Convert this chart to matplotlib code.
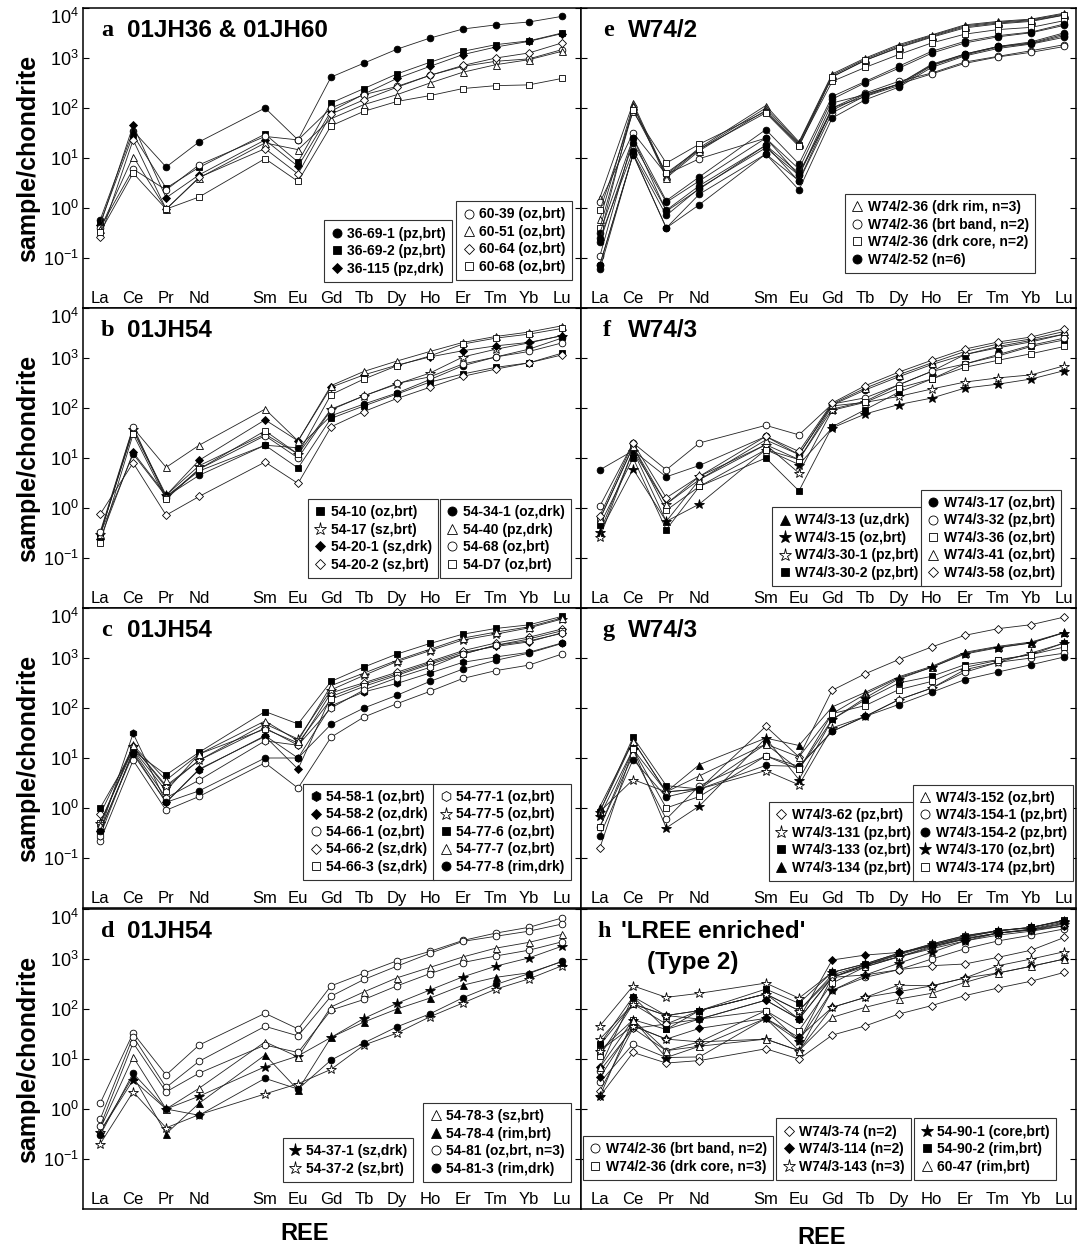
import math

import matplotlib
matplotlib.use("Agg")
import matplotlib.pyplot as plt
from matplotlib.lines import Line2D
from matplotlib.ticker import NullLocator

plt.rcParams["font.family"] = ["Liberation Sans", "DejaVu Sans"]
plt.rcParams["mathtext.fontset"] = "custom"
plt.rcParams["mathtext.rm"] = "Liberation Sans"
plt.rcParams["mathtext.it"] = "Liberation Sans:italic"
plt.rcParams["mathtext.bf"] = "Liberation Sans:bold"
plt.rcParams["axes.unicode_minus"] = False

ELEMENTS = ["La", "Ce", "Pr", "Nd", "Sm", "Eu", "Gd", "Tb", "Dy", "Ho", "Er", "Tm", "Yb", "Lu"]
POSITIONS = [1, 2, 3, 4, 6, 7, 8, 9, 10, 11, 12, 13, 14, 15]

# ---- panel a : 01JH36 & 01JH60
A_LABELS = ["36-69-1 (pz,brt)", "36-69-2 (pz,brt)", "36-115 (pz,drk)",
            "60-39 (oz,brt)", "60-51 (oz,brt)", "60-64 (oz,brt)", "60-68 (oz,brt)"]
A_GROUPS = [0, 1, 2, 3, 4, 5, 6]
A_VALUES = [
    [0.58, 35, 6.6, 21, 100, 23, 415, 790, 1500, 2500, 3800, 4600, 5250, 6800],
    [0.5, 29, 2.5, 6.5, 30, 8.3, 126, 245, 480, 820, 1360, 1850, 2200, 3160],
    [0.45, 45, 1.6, 4.6, 23, 6.8, 86, 190, 390, 680, 1170, 1660, 2150, 3070],
    [0.4, 6, 2.3, 7.3, 27, 23, 100, 185, 270, 450, 680, 860, 960, 1470],
    [0.38, 10.7, 0.95, 4, 20, 14.7, 61, 117, 185, 316, 520, 735, 925, 1360],
    [0.26, 23, 0.95, 4.1, 15.4, 4.8, 76, 146, 260, 450, 710, 1000, 1260, 2000],
    [0.33, 5, 0.95, 1.66, 9.7, 3.4, 44, 86, 135, 177, 245, 280, 290, 390],
]

# ---- panel b : 01JH54
B_LABELS = ["54-10 (oz,brt)", "54-17 (sz,brt)", "54-20-1 (sz,drk)", "54-20-2 (sz,brt)",
            "54-34-1 (oz,drk)", "54-40 (pz,drk)", "54-68 (oz,brt)", "54-D7 (oz,brt)"]
B_GROUPS = [0, 1, 2, 3, 4, 5, 6, 7]
B_VALUES = [
    [0.3, 35, 1.7, 5.5, 18, 6.3, 62, 110, 190, 330, 480, 650, 800, 1250],
    [0.3, 38, 1.8, 7, 30, 12, 95, 175, 300, 500, 1050, 1500, 2000, 2800],
    [0.24, 13, 1.8, 9, 58, 22, 260, 460, 720, 1050, 1400, 1750, 2050, 2800],
    [0.75, 8, 0.72, 1.7, 8.3, 3.1, 42, 85, 155, 260, 430, 600, 800, 1150],
    [0.3, 12, 1.7, 4.5, 18, 16, 70, 120, 200, 370, 700, 1050, 1500, 2500],
    [0.3, 40, 6.5, 18, 95, 22, 280, 540, 870, 1350, 2050, 2700, 3300, 4400],
    [0.33, 42, 1.6, 6, 28, 10, 92, 175, 310, 420, 760, 1050, 1350, 2000],
    [0.2, 30, 1.5, 6, 35, 12, 185, 380, 700, 1100, 1900, 2500, 3000, 3900],
]

# ---- panel c : 01JH54
C_LABELS = ["54-58-1 (oz,brt)", "54-58-2 (oz,drk)", "54-66-1 (oz,brt)", "54-66-2 (sz,drk)",
            "54-66-3 (sz,drk)", "54-77-1 (oz,brt)", "54-77-5 (oz,brt)", "54-77-6 (oz,brt)",
            "54-77-7 (oz,brt)", "54-77-8 (rim,drk)"]
C_GROUPS = [0, 1, 2, 3, 4, 5, 6, 7, 8, 9]
C_VALUES = [
    [0.35, 31, 1.3, 5.8, 28, 10, 110, 210, 310, 500, 820, 1050, 1300, 2000],
    [0.35, 13, 1.3, 6, 27, 6.0, 170, 300, 480, 800, 1300, 1700, 2100, 3200],
    [0.22, 9, 0.9, 1.7, 8, 2.5, 26, 66, 122, 215, 390, 560, 720, 1200],
    [0.75, 17, 2.6, 9, 40, 18, 200, 320, 520, 850, 1400, 2000, 2600, 3800],
    [0.5, 15, 2.2, 12, 38, 20, 150, 270, 450, 750, 1200, 1800, 2400, 3500],
    [0.28, 14, 1.6, 3.6, 22, 18, 100, 230, 400, 650, 1200, 1800, 2200, 3100],
    [0.5, 17, 2.8, 9, 48, 24, 230, 450, 850, 1400, 2300, 3000, 4000, 6000],
    [1.0, 14, 4.6, 13, 85, 48, 340, 660, 1200, 1950, 3000, 3900, 4600, 6800],
    [0.45, 18, 3.6, 12, 55, 22, 280, 500, 900, 1500, 2500, 3300, 4200, 6300],
    [0.35, 12, 1.3, 2.2, 10, 10, 47, 100, 180, 340, 600, 900, 1250, 1950],
]

# ---- panel d : 01JH54
D_LABELS = ["54-37-1 (sz,drk)", "54-37-2 (sz,brt)", "54-78-3 (sz,brt)",
            "54-78-4 (rim,brt)", "54-81 (oz,brt, n=3)", "54-81-3 (rim,drk)"]
D_GROUPS = [0, 1, 2, 3, 4, 4, 4, 5]
D_VALUES = [
    [0.35, 3.8, 1.0, 1.8, 7, 11.5, 27, 65, 130, 240, 440, 720, 1050, 1800],
    [0.2, 2.2, 0.42, 0.77, 2.0, 3.2, 6.2, 19, 33, 70, 132, 250, 400, 730],
    [0.4, 11, 1.0, 2.6, 22, 11, 110, 220, 420, 680, 1100, 1650, 2150, 3100],
    [0.35, 4.5, 0.32, 1.3, 12, 2.4, 27, 55, 100, 165, 300, 430, 530, 880],
    [1.3, 33, 4.8, 19, 82, 40, 290, 520, 920, 1420, 2350, 3300, 4300, 6600],
    [0.62, 28, 2.7, 9, 45, 29, 180, 390, 720, 1300, 2250, 2850, 3600, 5000],
    [0.45, 21, 2.2, 5.2, 19, 13.5, 95, 155, 290, 510, 850, 1150, 1500, 2200],
    [0.3, 5.2, 1.0, 0.75, 4.1, 2.5, 9.5, 21, 44, 80, 168, 310, 510, 900],
]

# ---- panel e : W74/2
E_LABELS = ["W74/2-36 (drk rim, n=3)", "W74/2-36 (brt band, n=2)",
            "W74/2-36 (drk core, n=2)", "W74/2-52 (n=6)"]
E_GROUPS = [0, 0, 0, 1, 1, 2, 2, 3, 3, 3, 3, 3, 3]
E_VALUES = [
    [1.6, 126, 4.6, 16, 112, 21, 480, 1000, 1850, 2900, 4600, 5400, 6000, 7900],
    [0.59, 115, 4.3, 15, 100, 20, 450, 950, 1750, 2800, 4400, 5200, 5800, 7600],
    [0.27, 110, 4.0, 14, 90, 19, 420, 900, 1650, 2700, 4200, 5000, 5600, 7300],
    [1.3, 32, 4.7, 9.7, 25, 4.5, 100, 200, 340, 500, 830, 1080, 1400, 1850],
    [0.11, 25, 0.86, 2.4, 18, 3.4, 80, 175, 300, 480, 780, 1050, 1300, 1700],
    [0.9, 85, 7.9, 19, 85, 18, 340, 650, 1170, 2000, 3000, 3700, 4100, 5600],
    [0.4, 90, 5.0, 15, 80, 17, 420, 900, 1600, 2600, 4000, 4800, 5400, 7200],
    [0.32, 25, 1.4, 4.2, 37, 7.6, 170, 340, 680, 1360, 2150, 2800, 3300, 4800],
    [0.21, 20, 1.3, 3.5, 25, 6, 150, 320, 620, 1250, 2000, 2650, 3200, 4500],
    [0.074, 12, 0.71, 2.5, 16, 4.5, 126, 185, 300, 750, 1200, 1700, 2000, 3000],
    [0.059, 12, 0.4, 1.9, 12, 3.5, 100, 170, 280, 700, 1150, 1650, 1950, 2800],
    [0.074, 11.7, 0.4, 1.17, 12, 2.3, 63, 146, 260, 650, 1100, 1550, 1900, 2600],
    [0.25, 14, 0.9, 2.8, 18, 5, 90, 190, 300, 720, 1200, 1700, 2100, 3200],
]

# ---- panel f : W74/3
F_LABELS = ["W74/3-13 (uz,drk)", "W74/3-15 (oz,brt)", "W74/3-30-1 (pz,brt)", "W74/3-30-2 (pz,brt)",
            "W74/3-17 (oz,brt)", "W74/3-32 (pz,brt)", "W74/3-36 (oz,brt)", "W74/3-41 (oz,brt)",
            "W74/3-58 (oz,brt)"]
F_GROUPS = [0, 1, 2, 3, 4, 5, 6, 7, 8]
F_VALUES = [
    [0.33, 14, 0.54, 3.7, 18.5, 9.3, 95, 136, 290, 540, 1170, 1600, 2100, 3000],
    [0.33, 6, 0.54, 1.2, 14.7, 7.4, 40, 76, 117, 158, 250, 300, 380, 560],
    [0.26, 14, 1.2, 4.3, 18.5, 5, 90, 130, 170, 240, 330, 400, 460, 700],
    [0.46, 10, 0.37, 2.7, 10, 2.2, 42, 93, 206, 380, 760, 1100, 1700, 2300],
    [5.8, 14, 4.2, 7.1, 27, 11.7, 115, 230, 420, 740, 1170, 1700, 2250, 3000],
    [1.1, 20, 5.8, 20, 45, 29, 120, 160, 290, 540, 760, 1170, 1800, 2500],
    [0.6, 17, 0.9, 2.7, 14.7, 9.3, 110, 130, 250, 380, 650, 900, 1220, 1700],
    [0.6, 17, 1.2, 3.7, 23, 11.7, 120, 250, 460, 800, 1350, 1900, 2400, 3400],
    [0.7, 20, 1.6, 4.3, 27, 13.5, 126, 280, 520, 900, 1510, 2090, 2630, 3860],
]

# ---- panel g : W74/3
G_LABELS = ["W74/3-62 (pz,brt)", "W74/3-131 (pz,brt)", "W74/3-133 (oz,brt)", "W74/3-134 (pz,brt)",
            "W74/3-152 (oz,brt)", "W74/3-154-1 (pz,brt)", "W74/3-154-2 (pz,brt)",
            "W74/3-170 (oz,brt)", "W74/3-174 (pz,brt)"]
G_GROUPS = [0, 1, 2, 3, 4, 5, 6, 7, 8]
G_VALUES = [
    [0.16, 15, 2.1, 2.4, 43, 10.5, 226, 485, 925, 1660, 2840, 3860, 4640, 6600],
    [0.85, 3.7, 2.1, 2.4, 5.6, 2.9, 40, 68, 146, 250, 585, 820, 1260, 2000],
    [0.85, 26, 2.8, 2.4, 19, 5.9, 59, 146, 316, 430, 735, 925, 1170, 2000],
    [1.07, 22, 2.1, 7.4, 25, 17.8, 105, 206, 420, 680, 1300, 1710, 2090, 3250],
    [0.85, 22, 2.1, 4.4, 19, 10.5, 77, 190, 400, 650, 1250, 1650, 2000, 3250],
    [0.42, 11.5, 0.6, 2.8, 11, 6.8, 34, 68, 146, 250, 520, 820, 1000, 1250],
    [0.28, 9.3, 1.66, 2.4, 7.1, 6.8, 34, 68, 117, 206, 370, 525, 735, 1050],
    [0.7, 15, 0.4, 1.1, 25, 3.7, 59, 160, 380, 650, 1200, 1600, 2000, 3200],
    [0.42, 15, 1.0, 1.7, 11, 5.9, 77, 112, 232, 340, 650, 900, 1170, 1660],
]

# ---- panel h : 'LREE enriched' (Type 2)
H_LABELS = ["W74/2-36 (brt band, n=2)", "W74/2-36 (drk core, n=3)",
            "W74/3-74 (n=2)", "W74/3-114 (n=2)", "W74/3-143 (n=3)",
            "54-90-1 (core,brt)", "54-90-2 (rim,brt)", "60-47 (rim,brt)"]
H_GROUPS = [0, 0, 1, 1, 1, 2, 2, 3, 3, 4, 4, 4, 5, 6, 7]
H_VALUES = [
    [3.4, 20, 10.7, 11, 65, 14.7, 235, 430, 610, 1000, 1600, 2300, 3000, 4000],
    [5.8, 41, 14.7, 22, 93, 23, 430, 700, 1100, 1600, 2300, 3000, 3600, 4600],
    [11.7, 126, 74, 93, 200, 93, 430, 760, 1200, 1900, 2700, 3700, 4300, 6000],
    [19, 126, 50, 93, 200, 63, 430, 760, 1250, 2000, 2900, 3700, 4200, 6000],
    [14.7, 61, 39, 63, 93, 37, 330, 700, 1100, 1700, 2500, 3300, 3900, 5200],
    [2.3, 41, 50, 63, 150, 63, 430, 480, 610, 735, 795, 1080, 1500, 2700],
    [1.8, 13.5, 8.3, 9.3, 16, 10, 30, 46, 79, 117, 185, 263, 360, 540],
    [6.8, 176, 74, 63, 150, 63, 955, 1200, 1350, 1800, 2600, 3300, 3800, 4600],
    [4.3, 46, 25, 41, 65, 27, 108, 171, 222, 290, 417, 525, 715, 1000],
    [46, 290, 171, 206, 330, 165, 540, 800, 1300, 2000, 2940, 3700, 4300, 5800],
    [25, 126, 74, 93, 200, 93, 480, 760, 1100, 1800, 2500, 3300, 3800, 5000],
    [14.7, 46, 25, 22, 25, 14.7, 108, 171, 300, 290, 417, 735, 1000, 1400],
    [1.8, 61, 10.7, 18, 65, 23, 235, 480, 820, 1360, 2300, 3300, 4000, 5500],
    [20, 176, 39, 93, 250, 130, 540, 800, 1300, 1900, 2800, 3600, 4300, 5800],
    [6.8, 61, 14.7, 18, 25, 14.7, 68, 108, 158, 206, 340, 525, 715, 1000],
]

# ---- layout: marker style per legend label, legend boxes (size, anchor x, anchor y)
PANELS = [
    dict(letter="a", title="01JH36 & 01JH60", labels=A_LABELS, groups=A_GROUPS, values=A_VALUES,
         styles=["fo", "fs", "fD", "oo", "o^", "oD", "os"],
         boxes=[(3, 0.741, 0.087), (4, 0.982, 0.093)], col=0, row=0),
    dict(letter="b", title="01JH54", labels=B_LABELS, groups=B_GROUPS, values=B_VALUES,
         styles=["fs", "o*", "fD", "oD", "fo", "o^", "oo", "os"],
         boxes=[(4, 0.713, 0.1), (4, 0.98, 0.1)], col=0, row=1),
    dict(letter="c", title="01JH54", labels=C_LABELS, groups=C_GROUPS, values=C_VALUES,
         styles=["fh", "fD", "oo", "oD", "os", "oh", "o*", "fs", "o^", "fo"],
         boxes=[(5, 0.705, 0.093), (5, 0.98, 0.093)], col=0, row=2),
    dict(letter="d", title="01JH54", labels=D_LABELS, groups=D_GROUPS, values=D_VALUES,
         styles=["f*", "o*", "o^", "f^", "oo", "fo"],
         boxes=[(2, 0.663, 0.09), (4, 0.98, 0.09)], col=0, row=3),
    dict(letter="e", title="W74/2", labels=E_LABELS, groups=E_GROUPS, values=E_VALUES,
         styles=["o^", "oo", "os", "fo"],
         boxes=[(4, 0.917, 0.117)], col=1, row=0),
    dict(letter="f", title="W74/3", labels=F_LABELS, groups=F_GROUPS, values=F_VALUES,
         styles=["f^", "f*", "o*", "fs", "fo", "oo", "os", "o^", "oD"],
         boxes=[(4, 0.695, 0.073), (5, 0.97, 0.073)], col=1, row=1),
    dict(letter="g", title="W74/3", labels=G_LABELS, groups=G_GROUPS, values=G_VALUES,
         styles=["oD", "o*", "fs", "f^", "o^", "oo", "fo", "f*", "os"],
         boxes=[(4, 0.679, 0.09), (5, 0.994, 0.09)], col=1, row=2),
    dict(letter="h", title="'LREE enriched'", labels=H_LABELS, groups=H_GROUPS, values=H_VALUES,
         styles=["oo", "os", "oD", "fD", "o*", "f*", "fs", "o^"],
         boxes=[(2, 0.388, 0.097), (3, 0.667, 0.097), (3, 0.96, 0.097)], col=1, row=3),
]

SIZE_SCALE = {"o": 1.0, "s": 0.9, "D": 0.8, "^": 1.05, "*": 1.45, "h": 1.1}

W, H = 1079, 1248
COL_X = [(83, 498), (581, 495)]
ROW_TOP = [8, 308, 608, 909]
PANEL_H = 300
XLIMS = [(0.48, 15.58), (0.43, 15.35)]
YTICKS = [1e-1, 1e0, 1e1, 1e2, 1e3, 1e4]


def marker_kwargs(style, size):
    fill, shape = style[0], style[1]
    return dict(
        marker=shape,
        markersize=size * SIZE_SCALE[shape],
        markerfacecolor="black" if fill == "f" else "white",
        markeredgecolor="black",
        markeredgewidth=0.6,
    )


fig = plt.figure(figsize=(W / 100, H / 100), dpi=100)

for p in PANELS:
    x0, wpx = COL_X[p["col"]]
    top = ROW_TOP[p["row"]]
    ax = fig.add_axes([x0 / W, 1 - (top + PANEL_H) / H, wpx / W, PANEL_H / H])

    for grp, vals in zip(p["groups"], p["values"]):
        ax.plot(POSITIONS, vals, color="#222222", linewidth=0.6,
                **marker_kwargs(p["styles"][grp], 4.8), zorder=3)

    ax.set_yscale("log")
    ax.set_ylim(1e-2, 1e4)
    ax.set_xlim(*XLIMS[p["col"]])
    ax.set_xticks([])
    ax.yaxis.set_minor_locator(NullLocator())
    ax.set_yticks(YTICKS)
    if p["col"] == 0:
        ax.set_yticklabels([f"$10^{{{int(round(math.log10(t)))}}}$" for t in YTICKS],
                           fontsize=13)
        ax.get_yticklabels()[-1].set_verticalalignment("top")
    else:
        ax.set_yticklabels([])
    ax.tick_params(axis="y", direction="in", left=True, right=True, length=4,
                   width=0.8, pad=3)
    for s in ax.spines.values():
        s.set_linewidth(1.1)

    for pos, name in zip(POSITIONS, ELEMENTS):
        ax.text(pos, 0.016, name, transform=ax.get_xaxis_transform(),
                ha="center", va="baseline", fontsize=12)

    lx = 0.036 if p["col"] == 0 else 0.044
    tx = 0.088 if p["col"] == 0 else 0.095
    if p["letter"] == "h":
        lx, tx = 0.034, 0.081
    ax.text(lx, 0.925, p["letter"], transform=ax.transAxes, fontsize=17.5,
            fontweight="bold", family="Liberation Serif", va="center", ha="left")
    ax.text(tx, 0.925, p["title"], transform=ax.transAxes, fontsize=17.5,
            fontweight="bold", va="center", ha="left")
    if p["letter"] == "h":
        ax.text(0.226, 0.823, "(Type 2)", transform=ax.transAxes, fontsize=17.5,
                fontweight="bold", va="center", ha="center")

    start = 0
    legends = []
    for n, bx, by in p["boxes"]:
        idx = range(start, start + n)
        start += n
        handles = [Line2D([], [], linestyle="none", **marker_kwargs(p["styles"][i], 6.5))
                   for i in idx]
        leg = ax.legend(handles, [p["labels"][i] for i in idx], loc="lower right",
                        bbox_to_anchor=(bx, by), bbox_transform=ax.transAxes,
                        frameon=True, fancybox=False, edgecolor="#333333", framealpha=1,
                        prop=dict(size=10, weight="bold"), handlelength=0.9,
                        handletextpad=0.3, borderpad=0.45, labelspacing=0.25,
                        borderaxespad=0)
        leg.get_frame().set_linewidth(0.8)
        leg.set_zorder(5)
        legends.append(leg)
    for leg in legends[:-1]:
        ax.add_artist(leg)

    if p["col"] == 0:
        fig.text(28 / W, 1 - (top + PANEL_H / 2) / H, "sample/chondrite", rotation=90,
                 ha="center", va="center", fontsize=18, fontweight="bold")

fig.text(305 / W, 1 - 1233 / H, "REE", ha="center", va="center", fontsize=17, fontweight="bold")
fig.text(822 / W, 1 - 1237 / H, "REE", ha="center", va="center", fontsize=17, fontweight="bold")

fig.savefig("out.png", dpi=100)
